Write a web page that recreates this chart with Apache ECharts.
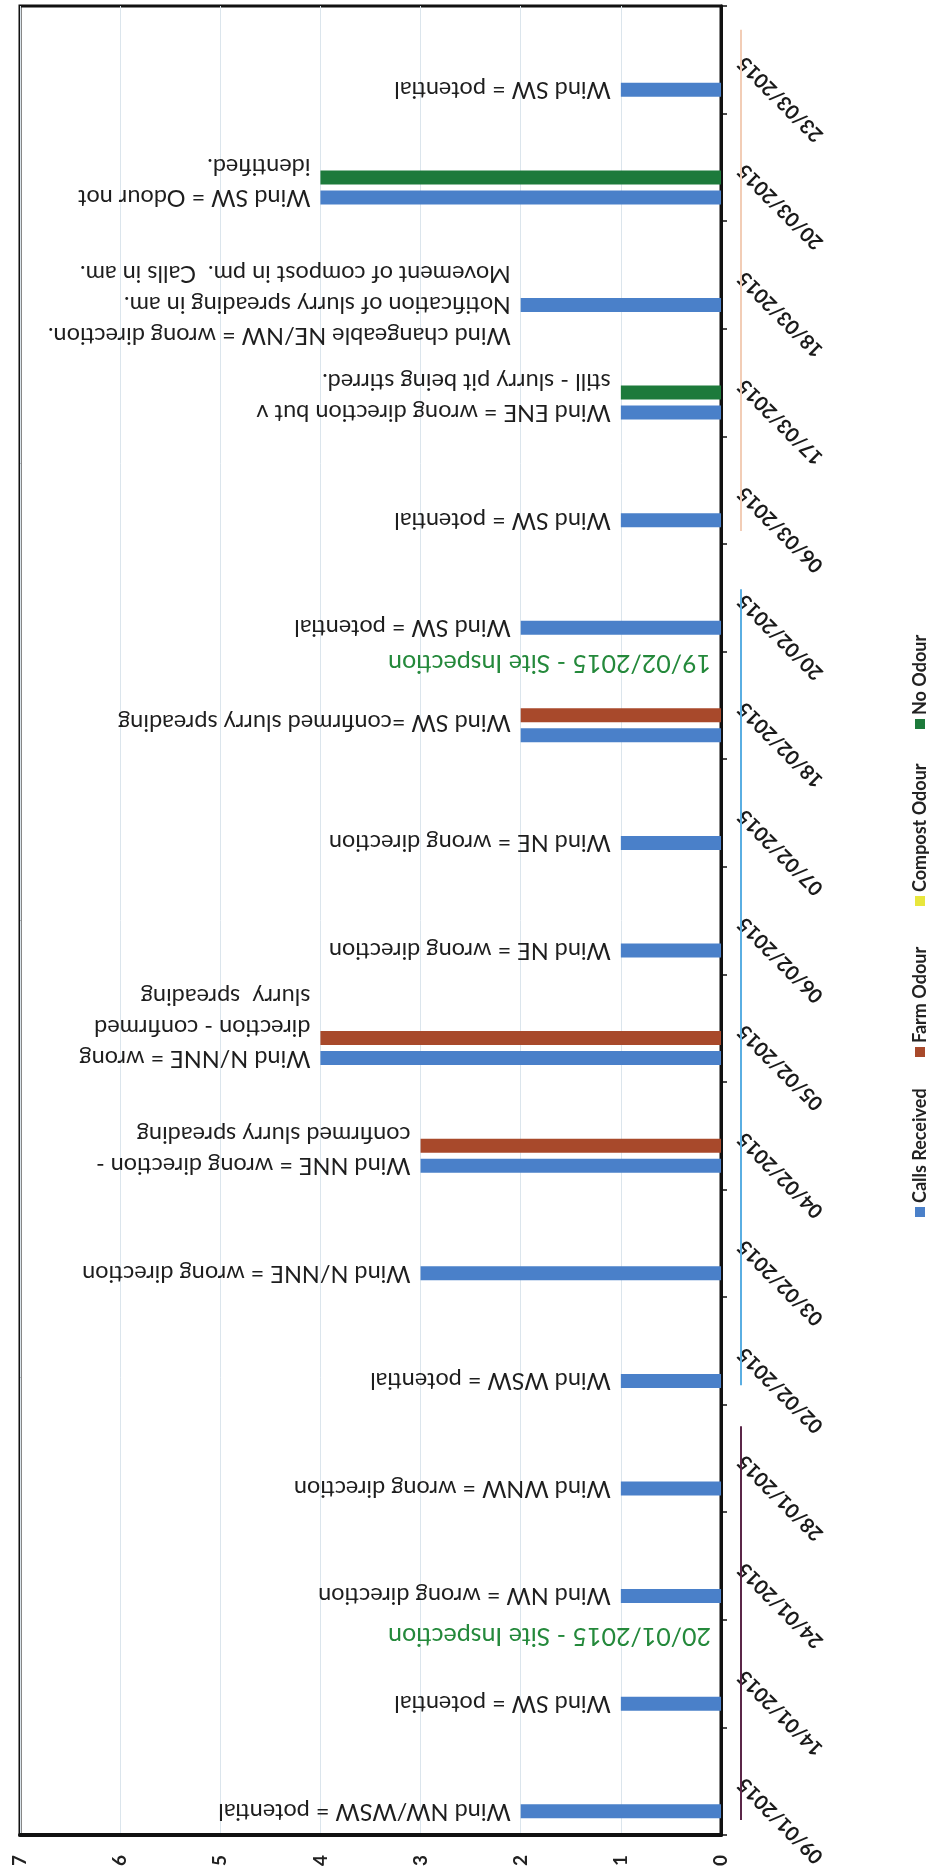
<!DOCTYPE html>
<html>
<head>
<meta charset="utf-8">
<script src="https://cdn.jsdelivr.net/npm/echarts@6/dist/echarts.min.js"></script>
<style>
html,body{margin:0;padding:0;background:#ffffff;}
#chart{width:934px;height:1875px;}
</style>
</head>
<body>
<div id="chart"></div>
<script>
// ---------------- data ----------------
const dates = ['09/01/2015','14/01/2015','24/01/2015','28/01/2015','02/02/2015','03/02/2015','04/02/2015','05/02/2015','06/02/2015','07/02/2015','18/02/2015','20/02/2015','06/03/2015','17/03/2015','18/03/2015','20/03/2015','23/03/2015'];
const callsReceived = [2,1,1,1,1,3,3,4,1,1,2,2,1,1,2,4,1];
const farmOdour     = [null,null,null,null,null,null,3,4,null,null,2,null,null,null,null,null,null];
const compostOdour  = [null,null,null,null,null,null,null,null,null,null,null,null,null,null,null,null,null];
const noOdour       = [null,null,null,null,null,null,null,null,null,null,null,null,null,1,null,4,null];
const notes = [
  'Wind NW/WSW = potential',
  'Wind SW = potential',
  'Wind NW = wrong direction',
  'Wind WNW = wrong direction',
  'Wind WSW = potential',
  'Wind N/NNE = wrong direction',
  'Wind NNE = wrong direction -\nconfirmed slurry spreading',
  'Wind N/NNE = wrong\ndirection - confirmed\nslurry  spreading',
  'Wind NE = wrong direction',
  'Wind NE = wrong direction',
  'Wind SW =confirmed slurry spreading',
  'Wind SW = potential',
  'Wind SW = potential',
  'Wind ENE = wrong direction but v\nstill - slurry pit being stirred.',
  'Wind changeable NE/NW = wrong direction.\nNotification of slurry spreading in am.\nMovement of compost in pm.  Calls in am.',
  'Wind SW = Odour not\nidentified.',
  'Wind SW = potential'
];
const seriesNames = ['Calls Received','Farm Odour','Compost Odour','No Odour'];
const inspectionText = ['20/01/2015 - Site Inspection','19/02/2015 - Site Inspection'];
const inspectionPos = [1.35, 10.39];          // position on the date axis (category units)
const monthBrackets = [[-0.36, 3.3],[3.68, 11.08],[11.62, 16.28]]; // Jan, Feb, Mar spans (category units)
const valueMin = 0, valueMax = 7, valueStep = 1;

// ---------------- styles ----------------
const colors = ['#4a80c9','#a8492b','#e8e63c','#1d7a3b'];
const monthColors = ['#5b2648','#5aaee2','#f2cdb6'];
const LH = 31;
const BW = 14, GAP = '43%';
// which text line sits level with the blue bar (style only)
const noteAnchorLine = [0,0,0,0,0,0,0,0,0,0,-0.42,0,0,0,1,0,0];

const chart = echarts.init(document.getElementById('chart'), null, {renderer:'canvas'});

function placeholder(){
  return {type:'bar', data:[], barWidth:BW, barGap:GAP, silent:true};
}

const legendY = [1212, 1052, 901, 724];
const legendEls = seriesNames.map((n,i)=>({
  type:'group', x:920, y:legendY[i], rotation:Math.PI/2,
  children:[
    {type:'rect', shape:{x:-5,y:-5,width:10,height:10}, style:{fill:colors[i]}},
    {type:'text', x:9, y:0, style:{text:n, fill:'#222', font:'bold 18px Lato', textAlign:'left', textVerticalAlign:'middle', align:'left', verticalAlign:'middle'}}
  ]
}));

const option = {
  backgroundColor:'#ffffff',
  animation:false,
  grid:{left:20, right:213, top:6, bottom:40, show:true, borderColor:'#111', borderWidth:3, containLabel:false, outerBoundsMode:'none'},
  xAxis:{
    type:'value', inverse:true, min:valueMin, max:valueMax, interval:valueStep, position:'bottom',
    axisLine:{show:true, lineStyle:{color:'#111', width:4}},
    axisTick:{show:false},
    splitLine:{show:true, lineStyle:{color:'#dbe5ec', width:1}},
    axisLabel:{rotate:90, margin:20, fontFamily:'Lato', fontWeight:'bold', fontSize:19, color:'#222'}
  },
  yAxis:{
    type:'category', data:dates, position:'right',
    axisLine:{show:true, onZero:false, lineStyle:{color:'#111', width:3}},
    axisTick:{show:true, length:6, lineStyle:{color:'#111', width:1.5}},
    splitLine:{show:false},
    axisLabel:{rotate:135, margin:20, fontFamily:'Lato', fontWeight:'bold', fontSize:20, color:'#1a1a1a'}
  },
  graphic:{elements:legendEls},
  series:[
    placeholder(),
    placeholder(),
    {name:seriesNames[1], type:'bar', stack:'odour', data:farmOdour, barWidth:BW, barGap:GAP, itemStyle:{color:colors[1]}},
    {name:seriesNames[2], type:'bar', stack:'odour', data:compostOdour, barWidth:BW, barGap:GAP, itemStyle:{color:colors[2]}},
    {name:seriesNames[3], type:'bar', stack:'odour', data:noOdour, barWidth:BW, barGap:GAP, itemStyle:{color:colors[3]}},
    {name:seriesNames[0], type:'bar', barWidth:BW, barGap:GAP, itemStyle:{color:colors[0]},
      data: callsReceived.map((v,i)=>({value:v, label:{offset:[0,((notes[i].split('\n').length-1)/2 - noteAnchorLine[i])*LH]}})),
      label:{show:true, position:'left', distance:10, rotate:180, align:'left', verticalAlign:'middle',
        formatter:p=>notes[p.dataIndex], fontFamily:'Lato', fontSize:23.5, lineHeight:LH, color:'#1e1e1e'}
    },
    {type:'custom', name:'months', silent:true, data:monthBrackets.map(()=>[0,0]),
      renderItem:(params, api)=>{
        const b = monthBrackets[params.dataIndex];
        const p0 = api.coord([0,0]), p1 = api.coord([0,1]);
        const step = p1[1]-p0[1];
        const x = p0[0]+20;
        return {type:'line', shape:{x1:x, y1:p0[1]+b[0]*step, x2:x, y2:p0[1]+b[1]*step},
          style:{stroke:monthColors[params.dataIndex], lineWidth:2}};
      }
    },
    {type:'custom', name:'inspections', silent:true, data:inspectionText.map(()=>[0,0]),
      renderItem:(params, api)=>{
        const p0 = api.coord([0.1,0]), p1 = api.coord([0.1,1]);
        const y = p0[1]+inspectionPos[params.dataIndex]*(p1[1]-p0[1]);
        return {type:'text', x:p0[0], y:y, rotation:Math.PI,
          style:{text:inspectionText[params.dataIndex], fill:'#24893b', font:'25px Lato',
            textAlign:'left', textVerticalAlign:'middle', align:'left', verticalAlign:'middle'}};
      }
    }
  ]
};
chart.setOption(option);
</script>
</body>
</html>
